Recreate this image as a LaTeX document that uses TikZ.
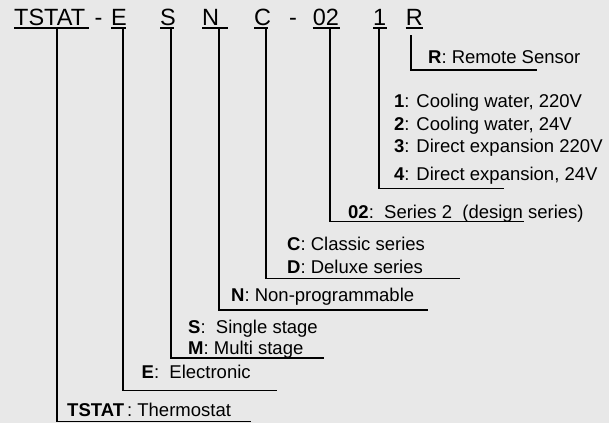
\documentclass[tikz,border=0pt]{standalone}
\usepackage{fontspec}
\setmainfont{Liberation Sans}
\definecolor{bg}{RGB}{232,232,232}
\tikzset{
  code/.style={anchor=base west,inner sep=0pt,font=\fontsize{23.5}{26}\selectfont},
  lab/.style={anchor=base west,inner sep=0pt,font=\fontsize{18.5}{21}\selectfont},
  wire/.style={line width=1.3pt,line cap=rect},
  uline/.style={line width=1.3pt}
}
\begin{document}
\begin{tikzpicture}[x=1pt,y=-1pt]
\fill[bg] (0,0) rectangle (609,423);
\useasboundingbox (0,0) rectangle (609,423);
% top code
\node[code] (cT) at (14,25) {TSTAT};
\node[code] (h1) at (94.5,25) {-};
\node[code] (cE) at (111,25) {E};
\node[code] (cS) at (160,25) {S};
\node[code] (cN) at (202,25) {N};
\node[code] (cC) at (254,25) {C};
\node[code] (h2) at (289,25) {-};
\node[code] (c02) at (312.7,25) {02};
\node[code] (c1) at (373,25) {1};
\node[code] (cR) at (405.7,25) {R};
% underlines
\draw[uline] (14,28) -- (89,28);
\draw[uline] (111,28) -- (126,28);
\draw[uline] (160,28) -- (174,28);
\draw[uline] (202,28) -- (228,28);
\draw[uline] (254,28) -- (268,28);
\draw[uline] (312.7,28) -- (340,28);
\draw[uline] (373,28) -- (386.7,28);
\draw[uline] (405.7,28) -- (423,28);
% labels
\node[lab] (lR) at (428,63) {\textbf{R}: Remote Sensor};
\node[lab] (l1) at (394,107.5) {\textbf{1}: Cooling water, 220V};
\node[lab] (l2) at (394,130) {\textbf{2}: Cooling water, 24V};
\node[lab] (l3) at (394,152.7) {\textbf{3}: Direct expansion 220V};
\node[lab] (l4) at (394,180) {\textbf{4}: Direct expansion, 24V};
\node[lab] (l02) at (348,218.3) {\textbf{02}:\ \ Series 2\ \ (design series)};
\node[lab] (lC) at (287,250) {\textbf{C}: Classic series};
\node[lab] (lD) at (287,273.3) {\textbf{D}: Deluxe series};
\node[lab] (lN) at (231,301) {\textbf{N}: Non-programmable};
\node[lab] (lS) at (188,333.3) {\textbf{S}:\ \ Single stage};
\node[lab] (lM) at (188,354.3) {\textbf{M}: Multi stage};
\node[lab] (lE) at (141.5,378.3) {\textbf{E}:\ \ Electronic};
\node[lab] (lT) at (67,416) {\textbf{TSTAT}\,: Thermostat};
% connectors
\coordinate (tT) at (57,28);   \coordinate (eT) at (250.7,421.5);
\coordinate (tE) at (123,28);  \coordinate (eE) at (276,390.5);
\coordinate (tS) at (171,28);  \coordinate (eS) at (323,358);
\coordinate (tN) at (219,28);  \coordinate (eN) at (427,310);
\coordinate (tC) at (266,28);  \coordinate (eC) at (459.5,278.3);
\coordinate (t02) at (330,28); \coordinate (e02) at (523,221.7);
\coordinate (t1) at (379,28);  \coordinate (e1) at (503,188.5);
\coordinate (tR) at (411,36);  \coordinate (eR) at (536,70);
\draw[wire] (tT) |- (eT);
\draw[wire] (tE) |- (eE);
\draw[wire] (tS) |- (eS);
\draw[wire] (tN) |- (eN);
\draw[wire] (tC) |- (eC);
\draw[wire] (t02) |- (e02);
\draw[wire] (t1) |- (e1);
\draw[wire] (tR) |- (eR);
\end{tikzpicture}
\end{document}
